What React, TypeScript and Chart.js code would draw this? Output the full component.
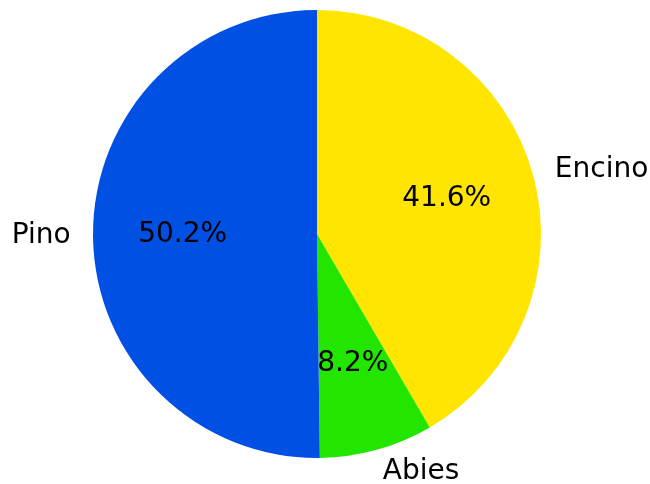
import React, { useEffect, useRef } from "react";
import { Chart, registerables } from "chart.js";

Chart.register(...registerables);

const categories = ["Encino", "Abies", "Pino"];
const values = [41.6, 8.2, 50.2];
const colors = ["#FFE500", "#22E500", "#0050E3"];

const FONT = "28px 'DejaVu Sans'";

const labelPlugin = {
  id: "pieLabels",
  afterDatasetsDraw(chart: any) {
    const ctx = chart.ctx;
    const meta = chart.getDatasetMeta(0);
    ctx.save();
    ctx.font = FONT;
    ctx.fillStyle = "#000";
    ctx.textBaseline = "middle";
    meta.data.forEach((arc: any, i: number) => {
      const { x, y, startAngle, endAngle, outerRadius } = arc.getProps(
        ["x", "y", "startAngle", "endAngle", "outerRadius"],
        true
      );
      const mid = (startAngle + endAngle) / 2;
      const c = Math.cos(mid);
      const s = Math.sin(mid);
      const lx = x + outerRadius * 1.1 * c;
      const ly = y + outerRadius * 1.1 * s;
      ctx.textAlign = c >= 0 ? "left" : "right";
      ctx.fillText(categories[i], lx, ly);
      const px = x + outerRadius * 0.6 * c;
      const py = y + outerRadius * 0.6 * s;
      ctx.textAlign = "center";
      ctx.fillText(values[i].toFixed(1) + "%", px, py);
    });
    ctx.restore();
  },
};

export default function App() {
  const ref = useRef<HTMLCanvasElement>(null);
  useEffect(() => {
    document.body.style.margin = "0";
    const chart = new Chart(ref.current!, {
      type: "pie",
      data: {
        labels: categories,
        datasets: [
          {
            data: values,
            backgroundColor: colors,
            borderWidth: 0,
          },
        ],
      },
      options: {
        animation: false,
        responsive: false,
        maintainAspectRatio: false,
        layout: { padding: { left: 93, right: 109, top: 10, bottom: 26 } },
        plugins: {
          legend: { display: false },
          tooltip: { enabled: false },
        },
      },
      plugins: [labelPlugin],
    });
    return () => chart.destroy();
  }, []);
  return (
    <div style={{ width: 650, height: 484 }}>
      <canvas ref={ref} width={650} height={484} style={{ display: "block" }} />
    </div>
  );
}
